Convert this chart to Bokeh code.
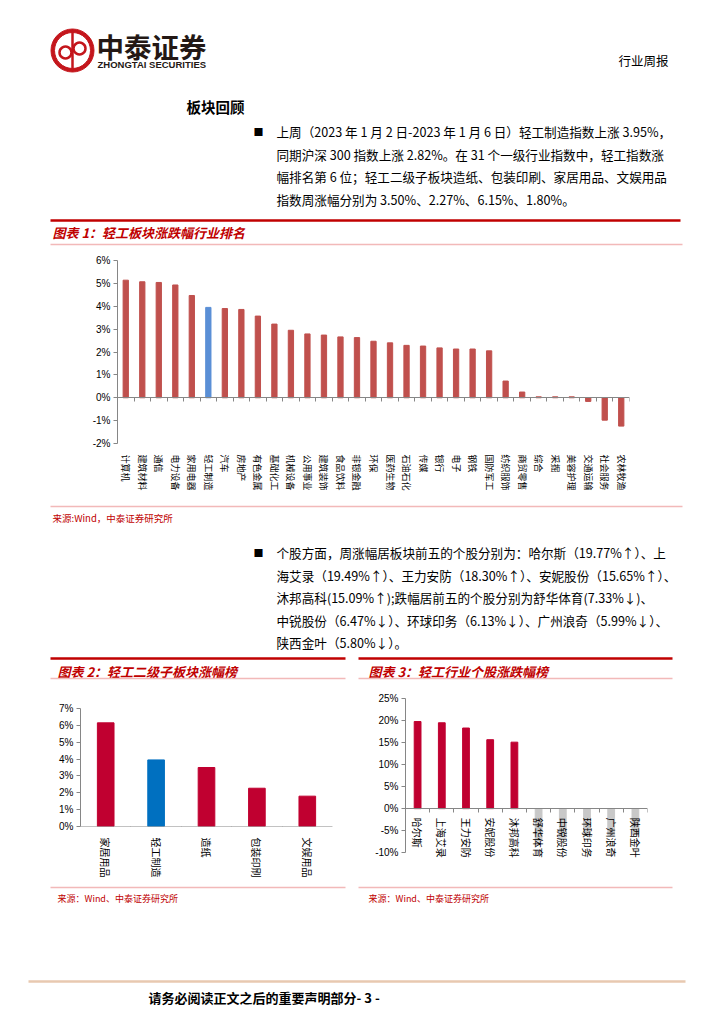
from bokeh.plotting import figure
from bokeh.models import (Range1d, FactorRange, LinearAxis, FixedTicker, SingleIntervalTicker,
                          PrintfTickFormatter, ColumnDataSource, CustomJSTickFormatter)
from bokeh.layouts import column, row
from bokeh.core.properties import value
from bokeh.embed import file_html
from bokeh.resources import INLINE

# ---------------- data ----------------
ind_names = ["计算机", "建筑材料", "通信", "电力设备", "家用电器", "轻工制造", "汽车", "房地产",
             "有色金属", "基础化工", "机械设备", "公用事业", "建筑装饰", "食品饮料", "非银金融",
             "环保", "医药生物", "石油石化", "传媒", "银行", "电子", "钢铁", "国防军工",
             "纺织服饰", "商贸零售", "综合", "采掘", "美容护理", "交通运输", "社会服务", "农林牧渔"]
ind_chg = [5.14, 5.07, 5.04, 4.93, 4.47, 3.95, 3.90, 3.86, 3.57, 3.22, 2.95, 2.79, 2.74, 2.66,
           2.63, 2.47, 2.40, 2.29, 2.26, 2.18, 2.13, 2.13, 2.05, 0.73, 0.25, 0.04, 0.04, 0.04,
           -0.16, -0.98, -1.24]

sub_names = ["家居用品", "轻工制造", "造纸", "包装印刷", "文娱用品"]
sub_chg = [6.15, 3.95, 3.50, 2.27, 1.80]

stock_names = ["哈尔斯", "上海艾录", "王力安防", "安妮股份", "沐邦高科",
               "舒华体育", "中锐股份", "环球印务", "广州浪奇", "陕西金叶"]
stock_chg = [19.77, 19.49, 18.30, 15.65, 15.09, -7.33, -6.47, -6.13, -5.99, -5.80]

highlight = "轻工制造"

para1 = ["上周（2023 年 1 月 2 日-2023 年 1 月 6 日）轻工制造指数上涨 3.95%，",
         "同期沪深 300 指数上涨 2.82%。在 31 个一级行业指数中，轻工指数涨",
         "幅排名第 6 位；轻工二级子板块造纸、包装印刷、家居用品、文娱用品",
         "指数周涨幅分别为 3.50%、2.27%、6.15%、1.80%。"]
para2 = ["个股方面，周涨幅居板块前五的个股分别为：哈尔斯（19.77%↑）、上",
         "海艾录（19.49%↑）、王力安防（18.30%↑）、安妮股份（15.65%↑）、",
         "沐邦高科(15.09%↑);跌幅居前五的个股分别为舒华体育(7.33%↓)、",
         "中锐股份（6.47%↓）、环球印务（6.13%↓）、广州浪奇（5.99%↓）、",
         "陕西金叶（5.80%↓）。"]

CJK = "Noto Sans CJK SC"
LAT = "Liberation Sans"
RED = "#C00000"
PINK = "#F2B9B9"
AX = "#868686"
W = 716


def canvas(w, h):
    p = figure(width=w, height=h, x_range=Range1d(0, w), y_range=Range1d(h, 0),
               output_backend="svg", toolbar_location=None, min_border=0, title=None,
               outline_line_color=None, border_fill_color="white")
    p.xaxis.visible = False
    p.yaxis.visible = False
    p.grid.visible = False
    return p


def txt(p, x, y, s, size, color="#000000", font=CJK, style="normal", align="left"):
    p.text(x=[x], y=[y], text=[s], text_font=value(font), text_font_size=f"{size}px",
           text_font_style=style, text_color=color, text_align=align, text_baseline="middle")


def hline(p, x0, x1, y, color, width):
    p.segment(x0=[x0], x1=[x1], y0=[y], y1=[y], line_color=color, line_width=width)


def bar_chart(names, vals, colors, w, h, bl, br, bt, bb, ymin, ymax, step, frac,
              label_size, label_at_zero=False, axis_bounds=None):
    p = figure(width=w, height=h, x_range=FactorRange(factors=names), y_range=Range1d(ymin, ymax),
               output_backend="svg", toolbar_location=None, title=None,
               min_border_left=bl, min_border_right=br, min_border_top=bt, min_border_bottom=bb,
               outline_line_color=None, border_fill_color="white")
    p.grid.visible = False
    src = ColumnDataSource(dict(x=names, top=vals, color=colors))
    p.vbar(x="x", top="top", width=frac, color="color", source=src)
    ya = p.yaxis[0]
    ya.ticker = SingleIntervalTicker(interval=step)
    ya.formatter = PrintfTickFormatter(format="%d%%")
    if axis_bounds is not None:
        ya.bounds = axis_bounds
    ya.axis_line_color = AX
    ya.major_tick_line_color = AX
    ya.major_tick_out = 4
    ya.major_tick_in = 0
    ya.minor_tick_line_color = None
    ya.major_label_text_font = LAT
    ya.major_label_text_font_size = "10px"
    ya.major_label_text_color = "#000000"
    ya.major_label_standoff = 3
    xa = p.xaxis[0]
    xa.axis_line_color = None
    xa.major_tick_line_color = None
    xa.major_label_orientation = "vertical"
    xa.major_label_text_font = CJK
    xa.major_label_text_font_size = f"{label_size}px"
    xa.major_label_text_color = "#000000"
    if label_at_zero:
        xa.fixed_location = 0
        xa.major_label_standoff = 3
    else:
        xa.major_label_standoff = 5
    # zero line with ticks between categories
    ta = LinearAxis(ticker=FixedTicker(ticks=list(range(len(names) + 1))), fixed_location=0,
                    axis_line_color=AX, major_tick_line_color=AX, major_tick_out=4,
                    major_tick_in=0, minor_tick_line_color=None,
                    formatter=CustomJSTickFormatter(code="return ''"),
                    major_label_text_font_size="0px")
    p.add_layout(ta, "below")
    return p


# ---------------- section A (page y 0-250) ----------------
A = canvas(W, 250)
LOGO = "#C4161C"
A.annulus(x=[72], y=[50], inner_radius=18, outer_radius=21.5, color=LOGO)
A.segment(x0=[72], x1=[72], y0=[31], y1=[69], line_color=LOGO, line_width=2.5)
A.arc(x=[65, 79], y=[52, 48], radius=6, start_angle=0, end_angle=6.283,
      line_color=LOGO, line_width=2.5)
txt(A, 96, 45, "中泰证券", 27.5, "#231815", style="bold")
txt(A, 97, 64, "ZHONGTAI SECURITIES", 9.5, "#231815", font=LAT, style="bold")
txt(A, 668, 60, "行业周报", 12.5, align="right")
txt(A, 186, 106, "板块回顾", 14.5, style="bold")
txt(A, 253, 131, "■", 10)
for i, line in enumerate(para1):
    txt(A, 276, 131 + i * 22.5, line, 12.6)
hline(A, 50, 680, 220, RED, 2.5)
txt(A, 52, 232, "图表 1：轻工板块涨跌幅行业排名", 13, RED, style="bold italic")
hline(A, 50, 682, 244, PINK, 1.5)

# ---------------- section B: chart 1 (page y 250-500) ----------------
ind_colors = ["#5A8FD6" if n == highlight else "#C0504D" for n in ind_names]
B = bar_chart(ind_names, ind_chg, ind_colors, W, 250, 117, 87, 10, 57, -2, 6, 1, 0.32, 9)

# ---------------- section C (page y 500-690) ----------------
C = canvas(W, 190)
hline(C, 50, 682, 6, PINK, 1.5)
txt(C, 52, 17, "来源:Wind，中泰证券研究所", 9.5, RED)
txt(C, 253, 52, "■", 10)
for i, line in enumerate(para2):
    txt(C, 276, 52 + i * 22.5, line, 12.6)
hline(C, 50, 345, 158, RED, 2.5)
hline(C, 358, 672, 158, RED, 2.5)
txt(C, 57, 171, "图表 2：轻工二级子板块涨幅榜", 13, RED, style="bold italic")
txt(C, 368, 171, "图表 3：轻工行业个股涨跌幅榜", 13, RED, style="bold italic")
hline(C, 50, 345, 178, PINK, 1.5)
hline(C, 358, 672, 178, PINK, 1.5)

# ---------------- section D: charts 2 and 3 (page y 690-880) ----------------
sub_colors = ["#0070C0" if n == highlight else "#C00030" for n in sub_names]
D2 = bar_chart(sub_names, sub_chg, sub_colors, 355, 190, 80, 23, 18, 52, 0, 7, 1, 0.33, 10)
stock_colors = ["#C00030" if v >= 0 else "#C8C8C8" for v in stock_chg]
D3 = bar_chart(stock_names, stock_chg, stock_colors, 361, 190, 50, 69, 8, 19, -12, 25, 5, 0.28, 10,
               label_at_zero=True, axis_bounds=(-10, 25))

# ---------------- section E (page y 880-1016) ----------------
E = canvas(W, 136)
hline(E, 50, 345, 7, PINK, 1.5)
hline(E, 358, 672, 7, PINK, 1.5)
txt(E, 57, 18, "来源：Wind、中泰证券研究所", 9, RED)
txt(E, 368, 18, "来源：Wind、中泰证券研究所", 9, RED)
hline(E, 28, 685, 101, "#E8C9B0", 2.5)
txt(E, 148, 117, "请务必阅读正文之后的重要声明部分- 3 -", 13, style="bold")

layout = column(row(A), row(B), row(C), row(column(D2), column(D3)), row(E))

open("out.html", "w").write(file_html(layout, INLINE))
